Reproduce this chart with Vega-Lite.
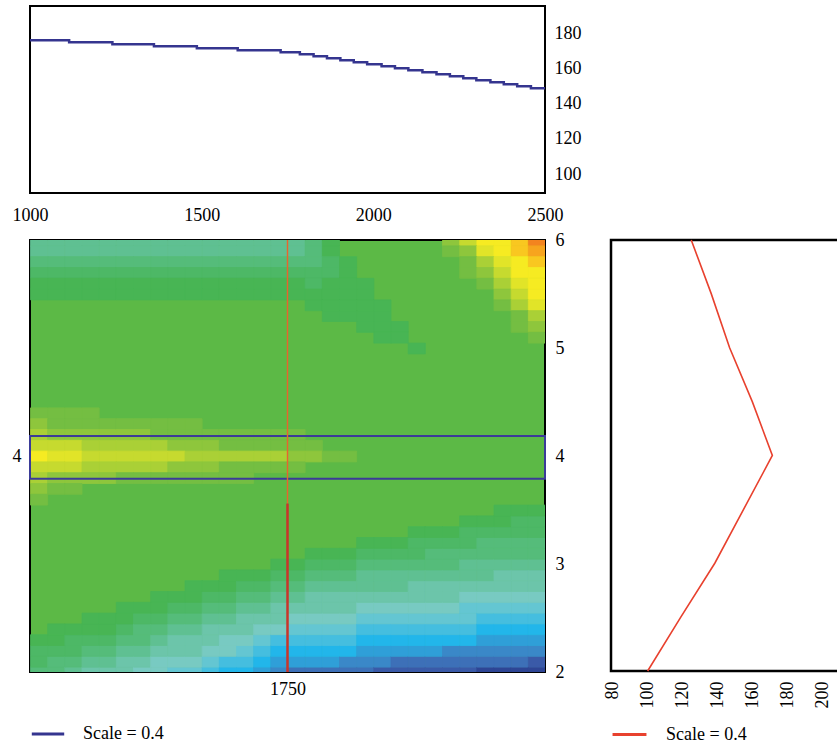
{
"$schema": "https://vega.github.io/schema/vega-lite/v6.json",
"padding": {"left": 11, "top": 5, "right": 0, "bottom": 0},
"background": "white",
"config": {
  "view": {"stroke": "#000", "strokeWidth": 2},
  "axis": {"labelFont": "Liberation Serif", "labelFontSize": 18, "labelColor": "#000", "ticks": false, "domain": false, "grid": false, "labelFlush": false, "labelOverlap": false},
  "legend": {"labelFont": "Liberation Serif", "labelFontSize": 18, "labelColor": "#000"}
},
"datasets": {"cells": [
{"x":1000,"y":1.95,"v":-3},{"x":1000,"y":2.05,"v":-2},{"x":1000,"y":2.15,"v":-2},{"x":1000,"y":2.25,"v":-1},
{"x":1050,"y":1.95,"v":-3},{"x":1050,"y":2.05,"v":-3},{"x":1050,"y":2.15,"v":-2},{"x":1050,"y":2.25,"v":-1},{"x":1050,"y":2.35,"v":-1},
{"x":1100,"y":1.95,"v":-4},{"x":1100,"y":2.05,"v":-3},{"x":1100,"y":2.15,"v":-2},{"x":1100,"y":2.25,"v":-2},{"x":1100,"y":2.35,"v":-1},
{"x":1150,"y":1.95,"v":-5},{"x":1150,"y":2.05,"v":-4},{"x":1150,"y":2.15,"v":-3},{"x":1150,"y":2.25,"v":-2},{"x":1150,"y":2.35,"v":-1},{"x":1150,"y":2.45,"v":-1},
{"x":1200,"y":1.95,"v":-5},{"x":1200,"y":2.05,"v":-4},{"x":1200,"y":2.15,"v":-3},{"x":1200,"y":2.25,"v":-2},{"x":1200,"y":2.35,"v":-1},{"x":1200,"y":2.45,"v":-1},
{"x":1250,"y":1.95,"v":-5},{"x":1250,"y":2.05,"v":-5},{"x":1250,"y":2.15,"v":-4},{"x":1250,"y":2.25,"v":-3},{"x":1250,"y":2.35,"v":-2},{"x":1250,"y":2.45,"v":-1},{"x":1250,"y":2.55,"v":-1},
{"x":1300,"y":1.95,"v":-6},{"x":1300,"y":2.05,"v":-5},{"x":1300,"y":2.15,"v":-4},{"x":1300,"y":2.25,"v":-3},{"x":1300,"y":2.35,"v":-3},{"x":1300,"y":2.45,"v":-2},{"x":1300,"y":2.55,"v":-1},
{"x":1350,"y":1.95,"v":-6},{"x":1350,"y":2.05,"v":-6},{"x":1350,"y":2.15,"v":-5},{"x":1350,"y":2.25,"v":-4},{"x":1350,"y":2.35,"v":-3},{"x":1350,"y":2.45,"v":-2},{"x":1350,"y":2.55,"v":-1},{"x":1350,"y":2.65,"v":-1},
{"x":1400,"y":1.95,"v":-7},{"x":1400,"y":2.05,"v":-6},{"x":1400,"y":2.15,"v":-5},{"x":1400,"y":2.25,"v":-5},{"x":1400,"y":2.35,"v":-4},{"x":1400,"y":2.45,"v":-3},{"x":1400,"y":2.55,"v":-2},{"x":1400,"y":2.65,"v":-1},
{"x":1450,"y":1.95,"v":-7},{"x":1450,"y":2.05,"v":-6},{"x":1450,"y":2.15,"v":-5},{"x":1450,"y":2.25,"v":-5},{"x":1450,"y":2.35,"v":-4},{"x":1450,"y":2.45,"v":-3},{"x":1450,"y":2.55,"v":-2},{"x":1450,"y":2.65,"v":-1},{"x":1450,"y":2.75,"v":-1},
{"x":1500,"y":1.95,"v":-8},{"x":1500,"y":2.05,"v":-7},{"x":1500,"y":2.15,"v":-6},{"x":1500,"y":2.25,"v":-5},{"x":1500,"y":2.35,"v":-5},{"x":1500,"y":2.45,"v":-4},{"x":1500,"y":2.55,"v":-3},{"x":1500,"y":2.65,"v":-2},{"x":1500,"y":2.75,"v":-1},
{"x":1550,"y":1.95,"v":-9},{"x":1550,"y":2.05,"v":-8},{"x":1550,"y":2.15,"v":-6},{"x":1550,"y":2.25,"v":-6},{"x":1550,"y":2.35,"v":-5},{"x":1550,"y":2.45,"v":-4},{"x":1550,"y":2.55,"v":-3},{"x":1550,"y":2.65,"v":-2},{"x":1550,"y":2.75,"v":-1},{"x":1550,"y":2.85,"v":-1},
{"x":1600,"y":1.95,"v":-9},{"x":1600,"y":2.05,"v":-8},{"x":1600,"y":2.15,"v":-7},{"x":1600,"y":2.25,"v":-6},{"x":1600,"y":2.35,"v":-5},{"x":1600,"y":2.45,"v":-5},{"x":1600,"y":2.55,"v":-4},{"x":1600,"y":2.65,"v":-3},{"x":1600,"y":2.75,"v":-2},{"x":1600,"y":2.85,"v":-1},
{"x":1650,"y":1.95,"v":-10},{"x":1650,"y":2.05,"v":-9},{"x":1650,"y":2.15,"v":-8},{"x":1650,"y":2.25,"v":-7},{"x":1650,"y":2.35,"v":-6},{"x":1650,"y":2.45,"v":-5},{"x":1650,"y":2.55,"v":-4},{"x":1650,"y":2.65,"v":-3},{"x":1650,"y":2.75,"v":-2},{"x":1650,"y":2.85,"v":-1},
{"x":1700,"y":1.95,"v":-11},{"x":1700,"y":2.05,"v":-10},{"x":1700,"y":2.15,"v":-9},{"x":1700,"y":2.25,"v":-8},{"x":1700,"y":2.35,"v":-6},{"x":1700,"y":2.45,"v":-5},{"x":1700,"y":2.55,"v":-5},{"x":1700,"y":2.65,"v":-4},{"x":1700,"y":2.75,"v":-3},{"x":1700,"y":2.85,"v":-2},{"x":1700,"y":2.95,"v":-1},
{"x":1750,"y":1.95,"v":-12},{"x":1750,"y":2.05,"v":-10},{"x":1750,"y":2.15,"v":-9},{"x":1750,"y":2.25,"v":-8},{"x":1750,"y":2.35,"v":-7},{"x":1750,"y":2.45,"v":-6},{"x":1750,"y":2.55,"v":-5},{"x":1750,"y":2.65,"v":-4},{"x":1750,"y":2.75,"v":-3},{"x":1750,"y":2.85,"v":-2},{"x":1750,"y":2.95,"v":-1},
{"x":1800,"y":1.95,"v":-12},{"x":1800,"y":2.05,"v":-10},{"x":1800,"y":2.15,"v":-9},{"x":1800,"y":2.25,"v":-8},{"x":1800,"y":2.35,"v":-7},{"x":1800,"y":2.45,"v":-6},{"x":1800,"y":2.55,"v":-5},{"x":1800,"y":2.65,"v":-5},{"x":1800,"y":2.75,"v":-4},{"x":1800,"y":2.85,"v":-3},{"x":1800,"y":2.95,"v":-2},{"x":1800,"y":3.05,"v":-1},
{"x":1850,"y":1.95,"v":-12},{"x":1850,"y":2.05,"v":-10},{"x":1850,"y":2.15,"v":-9},{"x":1850,"y":2.25,"v":-8},{"x":1850,"y":2.35,"v":-7},{"x":1850,"y":2.45,"v":-6},{"x":1850,"y":2.55,"v":-5},{"x":1850,"y":2.65,"v":-5},{"x":1850,"y":2.75,"v":-4},{"x":1850,"y":2.85,"v":-3},{"x":1850,"y":2.95,"v":-2},{"x":1850,"y":3.05,"v":-1},
{"x":1900,"y":1.95,"v":-12},{"x":1900,"y":2.05,"v":-11},{"x":1900,"y":2.15,"v":-9},{"x":1900,"y":2.25,"v":-8},{"x":1900,"y":2.35,"v":-7},{"x":1900,"y":2.45,"v":-6},{"x":1900,"y":2.55,"v":-5},{"x":1900,"y":2.65,"v":-5},{"x":1900,"y":2.75,"v":-4},{"x":1900,"y":2.85,"v":-3},{"x":1900,"y":2.95,"v":-2},{"x":1900,"y":3.05,"v":-1},
{"x":1950,"y":1.95,"v":-12},{"x":1950,"y":2.05,"v":-11},{"x":1950,"y":2.15,"v":-10},{"x":1950,"y":2.25,"v":-9},{"x":1950,"y":2.35,"v":-8},{"x":1950,"y":2.45,"v":-7},{"x":1950,"y":2.55,"v":-6},{"x":1950,"y":2.65,"v":-5},{"x":1950,"y":2.75,"v":-4},{"x":1950,"y":2.85,"v":-4},{"x":1950,"y":2.95,"v":-3},{"x":1950,"y":3.05,"v":-2},{"x":1950,"y":3.15,"v":-1},
{"x":2000,"y":1.95,"v":-13},{"x":2000,"y":2.05,"v":-11},{"x":2000,"y":2.15,"v":-10},{"x":2000,"y":2.25,"v":-9},{"x":2000,"y":2.35,"v":-8},{"x":2000,"y":2.45,"v":-7},{"x":2000,"y":2.55,"v":-6},{"x":2000,"y":2.65,"v":-5},{"x":2000,"y":2.75,"v":-4},{"x":2000,"y":2.85,"v":-4},{"x":2000,"y":2.95,"v":-3},{"x":2000,"y":3.05,"v":-2},{"x":2000,"y":3.15,"v":-1},
{"x":2050,"y":1.95,"v":-13},{"x":2050,"y":2.05,"v":-12},{"x":2050,"y":2.15,"v":-10},{"x":2050,"y":2.25,"v":-9},{"x":2050,"y":2.35,"v":-8},{"x":2050,"y":2.45,"v":-7},{"x":2050,"y":2.55,"v":-6},{"x":2050,"y":2.65,"v":-5},{"x":2050,"y":2.75,"v":-4},{"x":2050,"y":2.85,"v":-4},{"x":2050,"y":2.95,"v":-3},{"x":2050,"y":3.05,"v":-2},{"x":2050,"y":3.15,"v":-1},
{"x":2100,"y":1.95,"v":-13},{"x":2100,"y":2.05,"v":-12},{"x":2100,"y":2.15,"v":-10},{"x":2100,"y":2.25,"v":-9},{"x":2100,"y":2.35,"v":-8},{"x":2100,"y":2.45,"v":-7},{"x":2100,"y":2.55,"v":-6},{"x":2100,"y":2.65,"v":-5},{"x":2100,"y":2.75,"v":-5},{"x":2100,"y":2.85,"v":-4},{"x":2100,"y":2.95,"v":-3},{"x":2100,"y":3.05,"v":-2},{"x":2100,"y":3.15,"v":-2},{"x":2100,"y":3.25,"v":-1},
{"x":2150,"y":1.95,"v":-13},{"x":2150,"y":2.05,"v":-12},{"x":2150,"y":2.15,"v":-10},{"x":2150,"y":2.25,"v":-9},{"x":2150,"y":2.35,"v":-8},{"x":2150,"y":2.45,"v":-7},{"x":2150,"y":2.55,"v":-6},{"x":2150,"y":2.65,"v":-5},{"x":2150,"y":2.75,"v":-5},{"x":2150,"y":2.85,"v":-4},{"x":2150,"y":2.95,"v":-3},{"x":2150,"y":3.05,"v":-3},{"x":2150,"y":3.15,"v":-2},{"x":2150,"y":3.25,"v":-1},
{"x":2200,"y":1.95,"v":-13},{"x":2200,"y":2.05,"v":-12},{"x":2200,"y":2.15,"v":-11},{"x":2200,"y":2.25,"v":-9},{"x":2200,"y":2.35,"v":-8},{"x":2200,"y":2.45,"v":-7},{"x":2200,"y":2.55,"v":-6},{"x":2200,"y":2.65,"v":-5},{"x":2200,"y":2.75,"v":-5},{"x":2200,"y":2.85,"v":-4},{"x":2200,"y":2.95,"v":-3},{"x":2200,"y":3.05,"v":-3},{"x":2200,"y":3.15,"v":-2},{"x":2200,"y":3.25,"v":-1},
{"x":2250,"y":1.95,"v":-13},{"x":2250,"y":2.05,"v":-12},{"x":2250,"y":2.15,"v":-11},{"x":2250,"y":2.25,"v":-9},{"x":2250,"y":2.35,"v":-8},{"x":2250,"y":2.45,"v":-7},{"x":2250,"y":2.55,"v":-7},{"x":2250,"y":2.65,"v":-6},{"x":2250,"y":2.75,"v":-5},{"x":2250,"y":2.85,"v":-4},{"x":2250,"y":2.95,"v":-4},{"x":2250,"y":3.05,"v":-3},{"x":2250,"y":3.15,"v":-2},{"x":2250,"y":3.25,"v":-2},{"x":2250,"y":3.35,"v":-1},
{"x":2300,"y":1.95,"v":-14},{"x":2300,"y":2.05,"v":-12},{"x":2300,"y":2.15,"v":-11},{"x":2300,"y":2.25,"v":-10},{"x":2300,"y":2.35,"v":-9},{"x":2300,"y":2.45,"v":-8},{"x":2300,"y":2.55,"v":-7},{"x":2300,"y":2.65,"v":-6},{"x":2300,"y":2.75,"v":-5},{"x":2300,"y":2.85,"v":-4},{"x":2300,"y":2.95,"v":-4},{"x":2300,"y":3.05,"v":-3},{"x":2300,"y":3.15,"v":-3},{"x":2300,"y":3.25,"v":-2},{"x":2300,"y":3.35,"v":-1},
{"x":2350,"y":1.95,"v":-14},{"x":2350,"y":2.05,"v":-12},{"x":2350,"y":2.15,"v":-11},{"x":2350,"y":2.25,"v":-10},{"x":2350,"y":2.35,"v":-9},{"x":2350,"y":2.45,"v":-8},{"x":2350,"y":2.55,"v":-7},{"x":2350,"y":2.65,"v":-6},{"x":2350,"y":2.75,"v":-5},{"x":2350,"y":2.85,"v":-5},{"x":2350,"y":2.95,"v":-4},{"x":2350,"y":3.05,"v":-3},{"x":2350,"y":3.15,"v":-3},{"x":2350,"y":3.25,"v":-2},{"x":2350,"y":3.35,"v":-1},{"x":2350,"y":3.45,"v":-1},
{"x":2400,"y":1.95,"v":-14},{"x":2400,"y":2.05,"v":-12},{"x":2400,"y":2.15,"v":-11},{"x":2400,"y":2.25,"v":-10},{"x":2400,"y":2.35,"v":-9},{"x":2400,"y":2.45,"v":-8},{"x":2400,"y":2.55,"v":-7},{"x":2400,"y":2.65,"v":-6},{"x":2400,"y":2.75,"v":-5},{"x":2400,"y":2.85,"v":-5},{"x":2400,"y":2.95,"v":-4},{"x":2400,"y":3.05,"v":-3},{"x":2400,"y":3.15,"v":-3},{"x":2400,"y":3.25,"v":-2},{"x":2400,"y":3.35,"v":-2},{"x":2400,"y":3.45,"v":-1},
{"x":2450,"y":1.95,"v":-14},{"x":2450,"y":2.05,"v":-13},{"x":2450,"y":2.15,"v":-11},{"x":2450,"y":2.25,"v":-10},{"x":2450,"y":2.35,"v":-9},{"x":2450,"y":2.45,"v":-8},{"x":2450,"y":2.55,"v":-7},{"x":2450,"y":2.65,"v":-6},{"x":2450,"y":2.75,"v":-5},{"x":2450,"y":2.85,"v":-5},{"x":2450,"y":2.95,"v":-4},{"x":2450,"y":3.05,"v":-3},{"x":2450,"y":3.15,"v":-3},{"x":2450,"y":3.25,"v":-2},{"x":2450,"y":3.35,"v":-2},{"x":2450,"y":3.45,"v":-1},
{"x":1000,"y":4.35,"v":1},{"x":1050,"y":4.35,"v":1},{"x":1100,"y":4.35,"v":1},{"x":1150,"y":4.35,"v":1},
{"x":1000,"y":4.25,"v":2},{"x":1050,"y":4.25,"v":1},{"x":1100,"y":4.25,"v":1},{"x":1150,"y":4.25,"v":1},{"x":1200,"y":4.25,"v":1},{"x":1250,"y":4.25,"v":1},{"x":1300,"y":4.25,"v":1},{"x":1350,"y":4.25,"v":1},{"x":1400,"y":4.25,"v":1},{"x":1450,"y":4.25,"v":1},
{"x":1000,"y":4.15,"v":3},{"x":1050,"y":4.15,"v":2},{"x":1100,"y":4.15,"v":2},{"x":1150,"y":4.15,"v":2},{"x":1200,"y":4.15,"v":2},{"x":1250,"y":4.15,"v":2},{"x":1300,"y":4.15,"v":2},{"x":1350,"y":4.15,"v":1},{"x":1400,"y":4.15,"v":1},{"x":1450,"y":4.15,"v":1},{"x":1500,"y":4.15,"v":1},{"x":1550,"y":4.15,"v":1},{"x":1600,"y":4.15,"v":1},{"x":1650,"y":4.15,"v":1},{"x":1700,"y":4.15,"v":1},{"x":1750,"y":4.15,"v":1},
{"x":1000,"y":4.05,"v":4},{"x":1050,"y":4.05,"v":4},{"x":1100,"y":4.05,"v":4},{"x":1150,"y":4.05,"v":3},{"x":1200,"y":4.05,"v":3},{"x":1250,"y":4.05,"v":3},{"x":1300,"y":4.05,"v":3},{"x":1350,"y":4.05,"v":3},{"x":1400,"y":4.05,"v":2},{"x":1450,"y":4.05,"v":2},{"x":1500,"y":4.05,"v":2},{"x":1550,"y":4.05,"v":1},{"x":1600,"y":4.05,"v":1},{"x":1650,"y":4.05,"v":1},{"x":1700,"y":4.05,"v":1},{"x":1750,"y":4.05,"v":1},{"x":1800,"y":4.05,"v":1},
{"x":1000,"y":3.95,"v":6},{"x":1050,"y":3.95,"v":5},{"x":1100,"y":3.95,"v":5},{"x":1150,"y":3.95,"v":4},{"x":1200,"y":3.95,"v":4},{"x":1250,"y":3.95,"v":4},{"x":1300,"y":3.95,"v":4},{"x":1350,"y":3.95,"v":4},{"x":1400,"y":3.95,"v":4},{"x":1450,"y":3.95,"v":3},{"x":1500,"y":3.95,"v":3},{"x":1550,"y":3.95,"v":3},{"x":1600,"y":3.95,"v":3},{"x":1650,"y":3.95,"v":3},{"x":1700,"y":3.95,"v":3},{"x":1750,"y":3.95,"v":2},{"x":1800,"y":3.95,"v":2},{"x":1850,"y":3.95,"v":1},{"x":1900,"y":3.95,"v":1},
{"x":1000,"y":3.85,"v":4},{"x":1050,"y":3.85,"v":4},{"x":1100,"y":3.85,"v":4},{"x":1150,"y":3.85,"v":3},{"x":1200,"y":3.85,"v":3},{"x":1250,"y":3.85,"v":3},{"x":1300,"y":3.85,"v":3},{"x":1350,"y":3.85,"v":3},{"x":1400,"y":3.85,"v":2},{"x":1450,"y":3.85,"v":2},{"x":1500,"y":3.85,"v":2},{"x":1550,"y":3.85,"v":1},{"x":1600,"y":3.85,"v":1},{"x":1650,"y":3.85,"v":1},{"x":1700,"y":3.85,"v":1},{"x":1750,"y":3.85,"v":1},
{"x":1000,"y":3.75,"v":3},{"x":1050,"y":3.75,"v":2},{"x":1100,"y":3.75,"v":2},{"x":1150,"y":3.75,"v":2},{"x":1200,"y":3.75,"v":2},{"x":1250,"y":3.75,"v":1},{"x":1300,"y":3.75,"v":1},{"x":1350,"y":3.75,"v":1},{"x":1400,"y":3.75,"v":1},{"x":1450,"y":3.75,"v":1},{"x":1500,"y":3.75,"v":1},{"x":1550,"y":3.75,"v":1},{"x":1600,"y":3.75,"v":1},
{"x":1000,"y":3.65,"v":2},{"x":1050,"y":3.65,"v":1},{"x":1100,"y":3.65,"v":1},
{"x":1000,"y":3.55,"v":1},
{"x":1000,"y":5.95,"v":-4},{"x":1050,"y":5.95,"v":-4},{"x":1100,"y":5.95,"v":-4},{"x":1150,"y":5.95,"v":-4},{"x":1200,"y":5.95,"v":-4},{"x":1250,"y":5.95,"v":-4},{"x":1300,"y":5.95,"v":-4},{"x":1350,"y":5.95,"v":-4},{"x":1400,"y":5.95,"v":-4},{"x":1450,"y":5.95,"v":-4},{"x":1500,"y":5.95,"v":-4},{"x":1550,"y":5.95,"v":-4},{"x":1600,"y":5.95,"v":-4},{"x":1650,"y":5.95,"v":-4},{"x":1700,"y":5.95,"v":-4},
{"x":1000,"y":5.85,"v":-4},{"x":1050,"y":5.85,"v":-4},{"x":1100,"y":5.85,"v":-4},{"x":1150,"y":5.85,"v":-4},{"x":1200,"y":5.85,"v":-4},{"x":1250,"y":5.85,"v":-4},{"x":1300,"y":5.85,"v":-4},{"x":1350,"y":5.85,"v":-4},{"x":1400,"y":5.85,"v":-4},{"x":1450,"y":5.85,"v":-4},{"x":1500,"y":5.85,"v":-4},{"x":1550,"y":5.85,"v":-4},{"x":1600,"y":5.85,"v":-4},{"x":1650,"y":5.85,"v":-4},{"x":1700,"y":5.85,"v":-4},
{"x":1000,"y":5.75,"v":-3},{"x":1050,"y":5.75,"v":-3},{"x":1100,"y":5.75,"v":-3},{"x":1150,"y":5.75,"v":-3},{"x":1200,"y":5.75,"v":-3},{"x":1250,"y":5.75,"v":-3},{"x":1300,"y":5.75,"v":-3},{"x":1350,"y":5.75,"v":-3},{"x":1400,"y":5.75,"v":-3},{"x":1450,"y":5.75,"v":-3},{"x":1500,"y":5.75,"v":-3},{"x":1550,"y":5.75,"v":-3},{"x":1600,"y":5.75,"v":-3},{"x":1650,"y":5.75,"v":-3},{"x":1700,"y":5.75,"v":-3},
{"x":1000,"y":5.65,"v":-2},{"x":1050,"y":5.65,"v":-2},{"x":1100,"y":5.65,"v":-2},{"x":1150,"y":5.65,"v":-2},{"x":1200,"y":5.65,"v":-2},{"x":1250,"y":5.65,"v":-2},{"x":1300,"y":5.65,"v":-2},{"x":1350,"y":5.65,"v":-2},{"x":1400,"y":5.65,"v":-2},{"x":1450,"y":5.65,"v":-2},{"x":1500,"y":5.65,"v":-2},{"x":1550,"y":5.65,"v":-2},{"x":1600,"y":5.65,"v":-2},{"x":1650,"y":5.65,"v":-2},{"x":1700,"y":5.65,"v":-2},
{"x":1000,"y":5.55,"v":-1},{"x":1050,"y":5.55,"v":-1},{"x":1100,"y":5.55,"v":-1},{"x":1150,"y":5.55,"v":-1},{"x":1200,"y":5.55,"v":-1},{"x":1250,"y":5.55,"v":-1},{"x":1300,"y":5.55,"v":-1},{"x":1350,"y":5.55,"v":-1},{"x":1400,"y":5.55,"v":-1},{"x":1450,"y":5.55,"v":-1},{"x":1500,"y":5.55,"v":-1},{"x":1550,"y":5.55,"v":-1},{"x":1600,"y":5.55,"v":-1},{"x":1650,"y":5.55,"v":-1},{"x":1700,"y":5.55,"v":-1},
{"x":1000,"y":5.45,"v":-1},{"x":1050,"y":5.45,"v":-1},{"x":1100,"y":5.45,"v":-1},{"x":1150,"y":5.45,"v":-1},{"x":1200,"y":5.45,"v":-1},{"x":1250,"y":5.45,"v":-1},{"x":1300,"y":5.45,"v":-1},{"x":1350,"y":5.45,"v":-1},{"x":1400,"y":5.45,"v":-1},{"x":1450,"y":5.45,"v":-1},{"x":1500,"y":5.45,"v":-1},{"x":1550,"y":5.45,"v":-1},{"x":1600,"y":5.45,"v":-1},{"x":1650,"y":5.45,"v":-1},{"x":1700,"y":5.45,"v":-1},
{"x":1750,"y":5.95,"v":-4},{"x":1800,"y":5.95,"v":-3},{"x":1850,"y":5.95,"v":-1},
{"x":1750,"y":5.85,"v":-4},{"x":1800,"y":5.85,"v":-3},{"x":1850,"y":5.85,"v":-1},
{"x":1750,"y":5.75,"v":-3},{"x":1800,"y":5.75,"v":-3},{"x":1850,"y":5.75,"v":-2},{"x":1900,"y":5.75,"v":-1},
{"x":1750,"y":5.65,"v":-2},{"x":1800,"y":5.65,"v":-2},{"x":1850,"y":5.65,"v":-2},{"x":1900,"y":5.65,"v":-1},
{"x":1750,"y":5.55,"v":-1},{"x":1800,"y":5.55,"v":-2},{"x":1850,"y":5.55,"v":-1},{"x":1900,"y":5.55,"v":-1},{"x":1950,"y":5.55,"v":-1},
{"x":1750,"y":5.45,"v":-1},{"x":1800,"y":5.45,"v":-1},{"x":1850,"y":5.45,"v":-1},{"x":1900,"y":5.45,"v":-1},{"x":1950,"y":5.45,"v":-1},
{"x":1800,"y":5.35,"v":-1},{"x":1850,"y":5.35,"v":-1},{"x":1900,"y":5.35,"v":-1},{"x":1950,"y":5.35,"v":-1},{"x":2000,"y":5.35,"v":-1},
{"x":1850,"y":5.25,"v":-1},{"x":1900,"y":5.25,"v":-1},{"x":1950,"y":5.25,"v":-1},{"x":2000,"y":5.25,"v":-1},
{"x":1950,"y":5.15,"v":-1},{"x":2000,"y":5.15,"v":-1},{"x":2050,"y":5.15,"v":-1},
{"x":2000,"y":5.05,"v":-1},{"x":2050,"y":5.05,"v":-1},
{"x":2100,"y":4.95,"v":-1},
{"x":2200,"y":5.95,"v":2},{"x":2250,"y":5.95,"v":4},{"x":2300,"y":5.95,"v":6},{"x":2350,"y":5.95,"v":6},{"x":2400,"y":5.95,"v":7},{"x":2450,"y":5.95,"v":9},
{"x":2200,"y":5.85,"v":1},{"x":2250,"y":5.85,"v":2},{"x":2300,"y":5.85,"v":5},{"x":2350,"y":5.85,"v":6},{"x":2400,"y":5.85,"v":7},{"x":2450,"y":5.85,"v":8},
{"x":2250,"y":5.75,"v":1},{"x":2300,"y":5.75,"v":3},{"x":2350,"y":5.75,"v":5},{"x":2400,"y":5.75,"v":6},{"x":2450,"y":5.75,"v":7},
{"x":2250,"y":5.65,"v":1},{"x":2300,"y":5.65,"v":2},{"x":2350,"y":5.65,"v":4},{"x":2400,"y":5.65,"v":6},{"x":2450,"y":5.65,"v":6},
{"x":2300,"y":5.55,"v":1},{"x":2350,"y":5.55,"v":3},{"x":2400,"y":5.55,"v":5},{"x":2450,"y":5.55,"v":6},
{"x":2350,"y":5.45,"v":2},{"x":2400,"y":5.45,"v":4},{"x":2450,"y":5.45,"v":6},
{"x":2350,"y":5.35,"v":1},{"x":2400,"y":5.35,"v":3},{"x":2450,"y":5.35,"v":5},
{"x":2400,"y":5.25,"v":1},{"x":2450,"y":5.25,"v":3},
{"x":2400,"y":5.15,"v":1},{"x":2450,"y":5.15,"v":2},
{"x":2450,"y":5.05,"v":1}
]},
"bounds": "flush",
"spacing": 47,
"resolve": {"scale": {"stroke": "independent", "fill": "independent", "color": "independent"}, "legend": {"stroke": "independent"}},
"vconcat": [
  {
    "width": 515, "height": 187,
    "data": {"values": [
      {"x":1000,"y":176.0},{"x":1114,"y":174.9},{"x":1240,"y":173.75},{"x":1361,"y":172.6},{"x":1486,"y":171.5},{"x":1605,"y":170.3},
      {"x":1730,"y":169.2},{"x":1786,"y":168.1},{"x":1826,"y":166.9},{"x":1865,"y":165.8},{"x":1904,"y":164.7},{"x":1943,"y":163.5},
      {"x":1982,"y":162.4},{"x":2024,"y":161.25},{"x":2063,"y":160.1},{"x":2102,"y":159.0},{"x":2143,"y":157.8},{"x":2184,"y":156.7},
      {"x":2223,"y":155.6},{"x":2262,"y":154.4},{"x":2300,"y":153.3},{"x":2341,"y":152.2},{"x":2380,"y":151.0},{"x":2419,"y":149.9},
      {"x":2459,"y":148.75},{"x":2500,"y":148.75}
    ]},
    "mark": {"type": "line", "interpolate": "step-after", "strokeWidth": 2.5},
    "encoding": {
      "x": {"field": "x", "type": "quantitative", "title": null, "scale": {"domain": [1000, 2500], "nice": false, "zero": false},
            "axis": {"values": [1000, 1500, 2000, 2500], "format": "d", "labelPadding": 13}},
      "y": {"field": "y", "type": "quantitative", "title": null, "scale": {"domain": [89.2, 195.5], "nice": false, "zero": false},
            "axis": {"orient": "right", "values": [100, 120, 140, 160, 180], "format": "d", "labelPadding": 9}},
      "stroke": {"datum": "Scale = 0.4", "type": "nominal", "scale": {"range": ["#35358f"]},
                 "legend": {"title": null, "orient": "none", "legendX": 0, "legendY": 710, "symbolType": "stroke", "symbolSize": 1050, "symbolStrokeWidth": 3, "labelOffset": 17, "padding": 0}}
    }
  },
  {
    "bounds": "flush",
    "spacing": 66,
    "resolve": {"scale": {"stroke": "independent", "fill": "independent", "color": "independent"}, "legend": {"stroke": "independent"}},
    "hconcat": [
      {
        "width": 515, "height": 432,
        "view": {"fill": "#5cb946", "stroke": "#000", "strokeWidth": 2},
        "resolve": {"scale": {"y": "independent"}},
        "layer": [
          {
            "data": {"name": "cells"},
            "mark": {"type": "rect", "clip": true, "binSpacing": 0, "strokeWidth": 0.8},
            "encoding": {
              "x": {"field": "x", "type": "quantitative", "title": null, "bin": {"binned": true, "step": 50}, "scale": {"domain": [1000, 2500], "nice": false, "zero": false},
                    "axis": {"values": [1750], "format": "d", "labelPadding": 8}},
              "y": {"field": "y", "type": "quantitative", "title": null, "bin": {"binned": true, "step": 0.1}, "scale": {"domain": [2, 6], "nice": false, "zero": false},
                    "axis": {"orient": "right", "values": [2, 3, 4, 5, 6], "format": "d", "labelPadding": 10}},
              "fill": {"field": "v", "type": "ordinal", "legend": null,
                       "scale": {"domain": [-14,-13,-12,-11,-10,-9,-8,-7,-6,-5,-4,-3,-2,-1,1,2,3,4,5,6,7,8,9],
                                 "range": ["#2e4595","#3a5aa8","#3d70b8","#3a88c8","#2f9fd8","#22b6ea","#45bedf","#64c6d2","#78cac2","#6cc5aa","#5fc092","#55bc7a","#4db866","#48b554","#74be42","#8ec63c","#aad036","#c6da2f","#e1e428","#f6eb22","#f9c720","#f7a41e","#f3841f"]}},
              "stroke": {"field": "v", "type": "ordinal", "legend": null,
                       "scale": {"domain": [-14,-13,-12,-11,-10,-9,-8,-7,-6,-5,-4,-3,-2,-1,1,2,3,4,5,6,7,8,9],
                                 "range": ["#2e4595","#3a5aa8","#3d70b8","#3a88c8","#2f9fd8","#22b6ea","#45bedf","#64c6d2","#78cac2","#6cc5aa","#5fc092","#55bc7a","#4db866","#48b554","#74be42","#8ec63c","#aad036","#c6da2f","#e1e428","#f6eb22","#f9c720","#f7a41e","#f3841f"]}}
            }
          },
          {
            "data": {"values": [{"x": 1000, "x2": 2500, "y": 3.79, "y2": 4.185}]},
            "mark": {"type": "rect", "filled": false, "color": "#3b3b98", "strokeWidth": 2},
            "encoding": {
              "x": {"field": "x", "type": "quantitative", "title": null, "axis": {"values": [1750], "format": "d", "labelPadding": 8}},
              "x2": {"field": "x2"},
              "y": {"field": "y", "type": "quantitative", "title": null, "scale": {"domain": [2, 6], "nice": false, "zero": false},
                    "axis": {"orient": "left", "values": [4], "format": "d", "labelPadding": 9}},
              "y2": {"field": "y2"}
            }
          },
          {
            "data": {"values": [{"x": 1750, "y": 3.56, "y2": 6}]},
            "mark": {"type": "rule", "color": "#e8642e", "strokeWidth": 1.4},
            "encoding": {
              "x": {"field": "x", "type": "quantitative", "title": null, "axis": {"values": [1750], "format": "d", "labelPadding": 8}},
              "y": {"field": "y", "type": "quantitative", "title": null, "scale": {"domain": [2, 6], "nice": false, "zero": false}, "axis": null},
              "y2": {"field": "y2"}
            }
          },
          {
            "data": {"values": [{"x": 1750, "y": 2, "y2": 3.56}]},
            "mark": {"type": "rule", "color": "#c9352a", "strokeWidth": 2.5},
            "encoding": {
              "x": {"field": "x", "type": "quantitative", "title": null, "axis": {"values": [1750], "format": "d", "labelPadding": 8}},
              "y": {"field": "y", "type": "quantitative", "title": null, "scale": {"domain": [2, 6], "nice": false, "zero": false}, "axis": null},
              "y2": {"field": "y2"}
            }
          }
        ]
      },
      {
        "width": 232, "height": 431,
        "view": {"stroke": "#000", "strokeWidth": 2.5},
        "data": {"values": [
          {"t":125,"y":6},{"t":136.5,"y":5.5},{"t":147,"y":5},{"t":160,"y":4.5},{"t":171.5,"y":4},
          {"t":155,"y":3.5},{"t":138.5,"y":3},{"t":119,"y":2.5},{"t":100,"y":2}
        ]},
        "mark": {"type": "line", "strokeWidth": 1.6},
        "encoding": {
          "x": {"field": "t", "type": "quantitative", "title": null, "scale": {"domain": [79, 212], "nice": false, "zero": false},
                "axis": {"values": [80, 100, 120, 140, 160, 180, 200], "format": "d", "labelAngle": -90, "labelPadding": 10}},
          "y": {"field": "y", "type": "quantitative", "title": null, "scale": {"domain": [2, 6], "nice": false, "zero": false}, "axis": null},
          "order": {"field": "y", "type": "quantitative"},
          "stroke": {"datum": "Scale = 0.4", "type": "nominal", "scale": {"range": ["#e8412e"]},
                     "legend": {"title": null, "orient": "none", "legendX": 0, "legendY": 476, "symbolType": "stroke", "symbolSize": 1150, "symbolStrokeWidth": 3, "labelOffset": 18, "padding": 0}}
        }
      }
    ]
  }
]
}
